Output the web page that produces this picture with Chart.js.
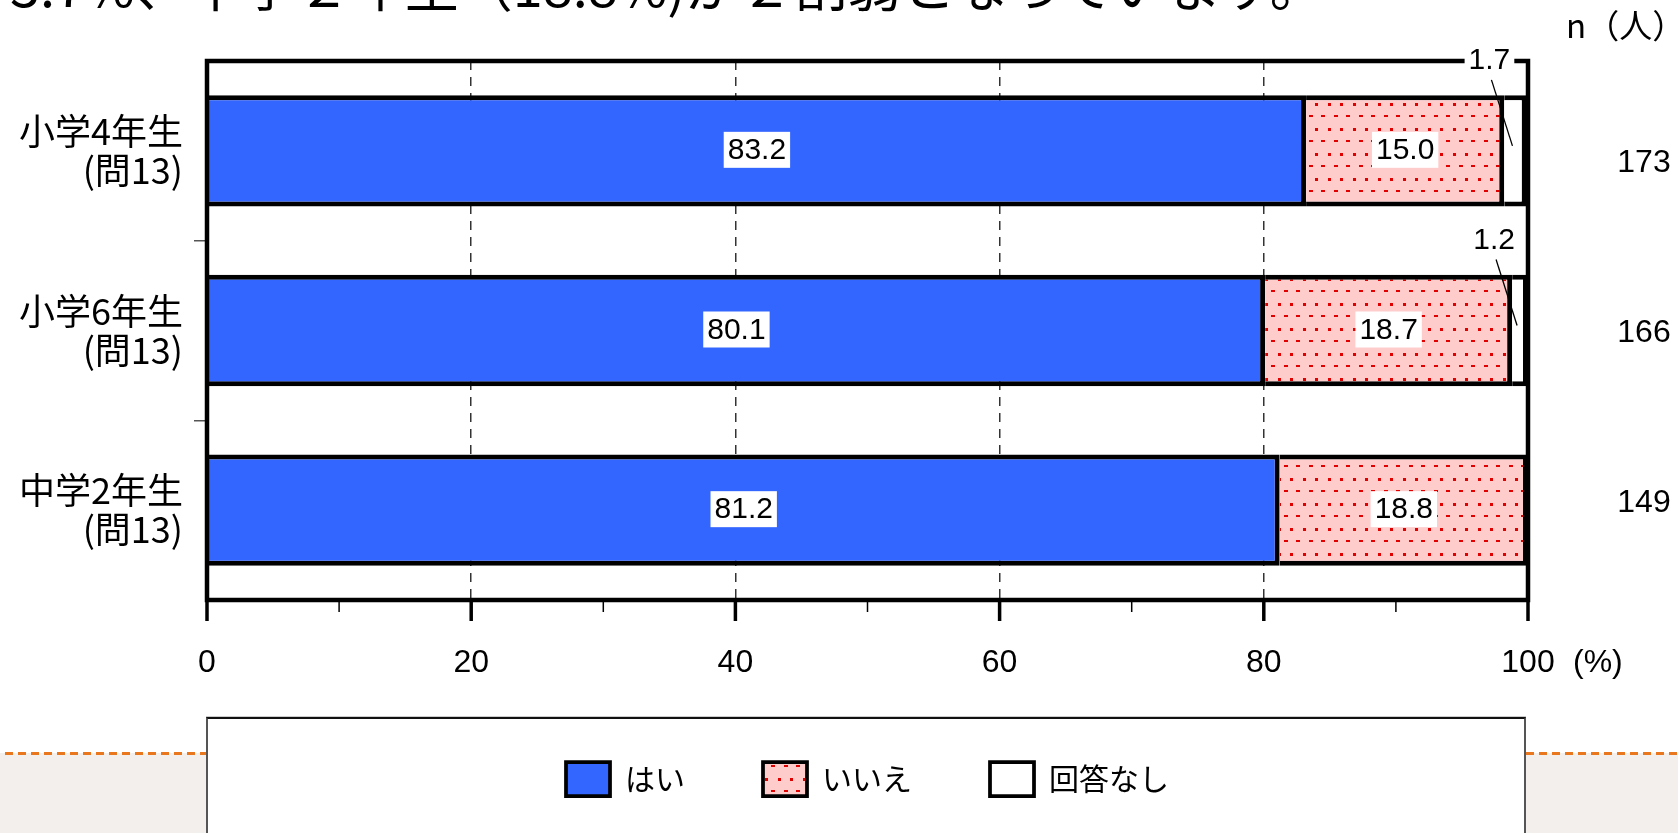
<!DOCTYPE html>
<html>
<head>
<meta charset="utf-8">
<script src="https://cdn.jsdelivr.net/npm/chart.js@4.4.1/dist/chart.umd.min.js"></script>
<style>
html,body{margin:0;padding:0;background:#fff;}
#wrap{position:relative;width:1678px;height:833px;overflow:hidden;background:#fff;}
#head{position:absolute;left:10px;top:-43px;font-family:'Noto Sans CJK JP';font-size:54px;line-height:53px;white-space:nowrap;color:#000;}
#band{position:absolute;left:0;top:753px;width:1678px;height:80px;background:#f2efec;}
#dash{position:absolute;left:5px;top:752px;width:1673px;height:3px;background:repeating-linear-gradient(to right,#e8771e 0 8px,rgba(0,0,0,0) 8px 13px);}
#legbox{position:absolute;left:206px;top:717px;width:1316px;height:140px;background:#fff;border:2px solid #555;border-top:2px solid #111;box-shadow:0 -1px 0 #ccc;}
#c{position:absolute;left:0;top:0;}
</style>
</head>
<body>
<div id="wrap">
  <div id="head">3.7%、中学２年生（18.8%)が２割弱となっています。</div>
  <div id="band"></div>
  <div id="dash"></div>
  <div id="legbox"></div>
  <canvas id="c" width="1678" height="833"></canvas>
</div>
<script>
// ---- data ----
const gradeLabels = ['小学4年生', '小学6年生', '中学2年生'];
const questionLabel = '(問13)';
const seriesNames = ['はい', 'いいえ', '回答なし'];
const yesValues = [83.2, 80.1, 81.2];
const noValues = [15.0, 18.7, 18.8];
const noAnswerValues = [1.7, 1.2, 0];
const nCounts = [173, 166, 149];
const nHeader = 'n（人）';
const xTickValues = [0, 20, 40, 60, 80, 100];
const xGridValues = [20, 40, 60, 80];
const unitLabel = '(%)';

const canvas = document.getElementById('c');
const mainCtx = canvas.getContext('2d');

function makeDotPattern() {
  const c = document.createElement('canvas');
  c.width = 25; c.height = 25;
  const g = c.getContext('2d');
  g.fillStyle = '#ffcccc';
  g.fillRect(0, 0, 25, 25);
  g.fillStyle = '#e00000';
  g.fillRect(3, 3, 3, 3);
  g.fillRect(15, 3, 3, 3);
  g.fillRect(9, 15, 4, 2);
  g.fillRect(21, 15, 4, 2);
  return mainCtx.createPattern(c, 'repeat');
}

const labels = gradeLabels.map(g => [g, questionLabel]);
const barBorder = {top: 5, bottom: 5, left: 0, right: 5};
const common = {
  borderColor: '#000',
  borderWidth: barBorder,
  borderSkipped: false,
  categoryPercentage: 1,
  barPercentage: 0.62
};

const overlay = {
  id: 'overlay',
  afterDatasetsDraw(chart) {
    const {ctx, chartArea: a, scales: {x}} = chart;
    ctx.save();
    ctx.strokeStyle = '#000';
    ctx.fillStyle = '#000';
    // frame
    ctx.lineWidth = 4.5;
    ctx.strokeRect(a.left, a.top, a.right - a.left, a.bottom - a.top);
    // x tick marks
    x.ticks.forEach(t => {
      const px = x.getPixelForValue(t.value);
      const major = xTickValues.includes(t.value);
      ctx.lineWidth = major ? 3.5 : 1.5;
      ctx.beginPath();
      ctx.moveTo(px, a.bottom);
      ctx.lineTo(px, a.bottom + (major ? 21 : 12));
      ctx.stroke();
    });
    // unit
    ctx.font = "32px 'Liberation Sans Narrow', 'Liberation Sans', sans-serif";
    ctx.textBaseline = 'middle';
    ctx.textAlign = 'left';
    ctx.fillText(unitLabel, x.getPixelForValue(100) + 45, a.bottom + 63);
    // n header
    ctx.font = "33px 'Noto Sans CJK JP'";
    ctx.fillText(nHeader, a.right + 38, 25);
    // n counts (column of sample sizes, slightly tighter spacing than the bars)
    ctx.font = "32px 'Liberation Sans', sans-serif";
    ctx.textAlign = 'center';
    const mid = (a.top + a.bottom) / 2 + 3;
    const step = (a.bottom - a.top) / nCounts.length * 0.946;
    nCounts.forEach((n, i) => ctx.fillText(String(n), a.right + 116, mid + (i - (nCounts.length - 1) / 2) * step));
    // value labels
    ctx.font = "30px 'Liberation Sans', sans-serif";
    chart.data.datasets.forEach((ds, di) => {
      const meta = chart.getDatasetMeta(di);
      meta.data.forEach((el, i) => {
        const v = ds.data[i];
        if (!v) return;
        const txt = v.toFixed(1);
        const w = ctx.measureText(txt).width;
        let cx = (el.x + el.base) / 2;
        let cy = el.y - 1;
        if (v < 5) {
          ctx.strokeStyle = '#000';
          ctx.lineWidth = 1.3;
          ctx.beginPath();
          ctx.moveTo(cx - 24, cy - 70);
          ctx.lineTo(cx - 3, cy - 4);
          ctx.stroke();
          cx -= 26;
          cy -= 90;
        }
        ctx.fillStyle = '#fff';
        ctx.fillRect(cx - w / 2 - 4, cy - 18, w + 8, 36);
        ctx.fillStyle = '#000';
        ctx.fillText(txt, cx, cy + 1);
      });
    });
    ctx.restore();
  }
};

Chart.defaults.color = '#000';

new Chart(mainCtx, {
  type: 'bar',
  data: {
    labels: labels,
    datasets: [
      Object.assign({label: seriesNames[0], data: yesValues, backgroundColor: '#3366ff'}, common),
      Object.assign({label: seriesNames[1], data: noValues, backgroundColor: makeDotPattern()}, common),
      Object.assign({label: seriesNames[2], data: noAnswerValues, backgroundColor: '#ffffff'}, common)
    ]
  },
  options: {
    indexAxis: 'y',
    responsive: false,
    animation: false,
    devicePixelRatio: 1,
    layout: {padding: {top: 61, left: 0, right: 150, bottom: 27}},
    plugins: {
      legend: {
        position: 'bottom',
        fullSize: false,
        labels: {
          boxWidth: 44,
          boxHeight: 34,
          padding: 78,
          color: '#000',
          font: {family: "'Noto Sans CJK JP'", size: 30}
        }
      },
      tooltip: {enabled: false}
    },
    scales: {
      x: {
        stacked: true,
        min: 0,
        max: 100,
        afterFit: s => { s.height = 84; },
        border: {display: false, dash: [9, 7]},
        grid: {
          drawTicks: false,
          lineWidth: 1.5,
          color: c => (c.tick && xGridValues.includes(c.tick.value)) ? '#333' : 'rgba(0,0,0,0)'
        },
        ticks: {
          stepSize: 10,
          autoSkip: false,
          maxRotation: 0,
          padding: 44,
          color: '#000',
          font: {family: "'Liberation Sans Narrow', 'Liberation Sans', sans-serif", size: 32},
          callback: v => xTickValues.includes(v) ? String(v) : ''
        }
      },
      y: {
        stacked: true,
        afterFit: s => { s.width = 207; },
        border: {display: false},
        grid: {
          drawOnChartArea: false,
          drawTicks: true,
          tickLength: 13,
          offset: true,
          lineWidth: 1.5,
          color: c => (c.index === 1 || c.index === 2) ? '#555' : 'rgba(0,0,0,0)'
        },
        ticks: {
          padding: 11,
          autoSkip: false,
          color: '#000',
          font: {family: "'Noto Sans CJK JP'", size: 36, lineHeight: 1.08}
        }
      }
    }
  },
  plugins: [overlay]
});
</script>
</body>
</html>
